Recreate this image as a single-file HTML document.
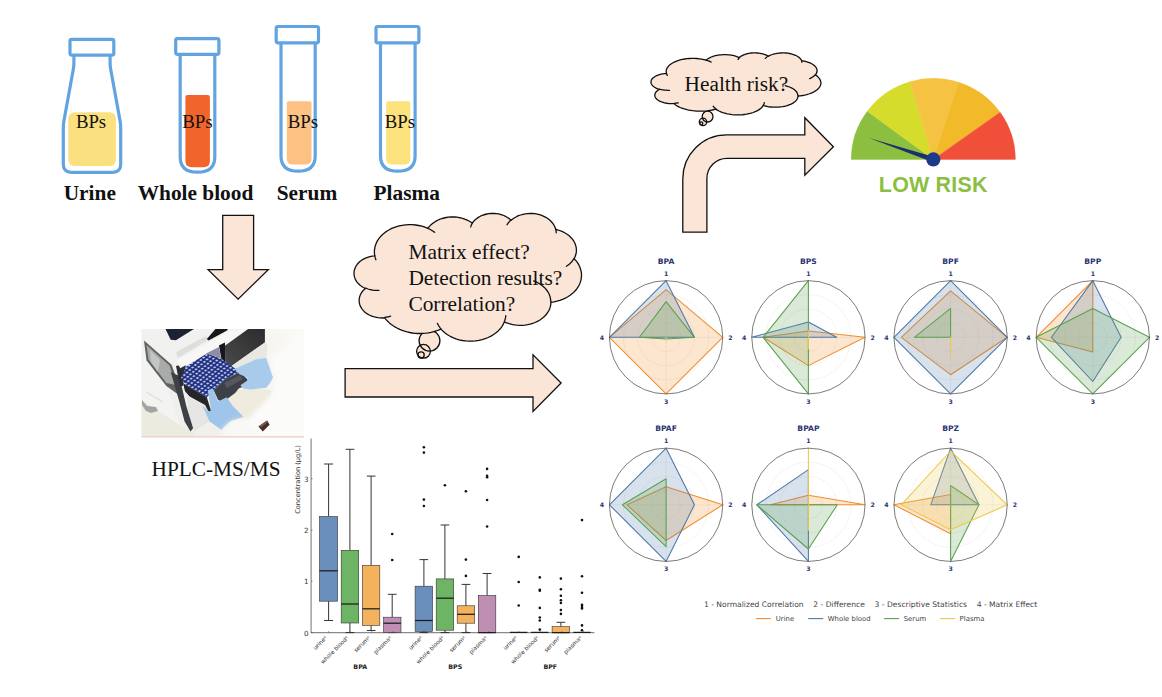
<!DOCTYPE html>
<html lang="en"><head><meta charset="utf-8"><title>Graphical abstract</title>
<style>html,body{margin:0;padding:0;background:#fff}svg{display:block}</style></head>
<body>
<svg width="1162" height="697" viewBox="0 0 1162 697">
<rect width="1162" height="697" fill="#ffffff"/>
<path d="M73.9 55 L73.9 63 Q73.9 66 73.4 68.8 L63.9 121 Q63.3 124.5 63.3 128 L63.3 164.3 Q63.3 172.3 71.3 172.3 L112.7 172.3 Q120.7 172.3 120.7 164.3 L120.7 128 Q120.7 124.5 120.1 121 L110.6 68.8 Q110.1 66 110.1 63 L110.1 55" fill="#fff" stroke="#62a4df" stroke-width="3.2" stroke-linejoin="round"/>
<rect x="68.3" y="112.2" width="47.6" height="53.7" rx="6" fill="#fbe07f"/>
<rect x="70" y="39.3" width="43.8" height="15.8" rx="1.8" fill="#fff" stroke="#62a4df" stroke-width="3.2"/>
<path d="M180.2 54 L180.2 157 Q180.2 172.2 197.5 172.2 Q214.8 172.2 214.8 157 L214.8 54" fill="#fff" stroke="#62a4df" stroke-width="3.2"/>
<path d="M185.4 97 Q185.4 94.9 187.5 94.9 L207.8 94.9 Q209.9 94.9 209.9 97 L209.9 161 Q209.9 167.2 203.5 167.2 L191.8 167.2 Q185.4 167.2 185.4 161 Z" fill="#f2652a"/>
<rect x="175.7" y="38.7" width="43.2" height="15.6" rx="1.8" fill="#fff" stroke="#62a4df" stroke-width="3.2"/>
<path d="M281 43 L281 156 Q281 171.2 298.1 171.2 Q315.2 171.2 315.2 156 L315.2 43" fill="#fff" stroke="#62a4df" stroke-width="3.2"/>
<path d="M286.8 103 Q286.8 101.3 288.5 101.3 L309.8 101.3 Q311.5 101.3 311.5 103 L311.5 159 Q311.5 164.6 305.5 164.6 L292.8 164.6 Q286.8 164.6 286.8 159 Z" fill="#fdc283"/>
<rect x="276.2" y="26.5" width="42.3" height="16.4" rx="1.8" fill="#fff" stroke="#62a4df" stroke-width="3.2"/>
<path d="M380.5 43 L380.5 156 Q380.5 171.2 397.8 171.2 Q415.1 171.2 415.1 156 L415.1 43" fill="#fff" stroke="#62a4df" stroke-width="3.2"/>
<path d="M386.2 103 Q386.2 101.3 387.9 101.3 L408.6 101.3 Q410.3 101.3 410.3 103 L410.3 159 Q410.3 164.6 404.3 164.6 L392.2 164.6 Q386.2 164.6 386.2 159 Z" fill="#fbe27c"/>
<rect x="376" y="26.5" width="42.9" height="16.4" rx="1.8" fill="#fff" stroke="#62a4df" stroke-width="3.2"/>
<text x="75.9" y="128.0" font-family="Liberation Serif, serif" font-size="18.8" fill="#111">BPs</text>
<text x="182.2" y="128.0" font-family="Liberation Serif, serif" font-size="18.8" fill="#111">BPs</text>
<text x="287.7" y="128.0" font-family="Liberation Serif, serif" font-size="18.8" fill="#111">BPs</text>
<text x="384.7" y="128.0" font-family="Liberation Serif, serif" font-size="18.8" fill="#111">BPs</text>
<text x="63.7" y="200.2" font-family="Liberation Serif, serif" font-size="21.35" font-weight="bold" fill="#111">Urine</text>
<text x="137.7" y="200.2" font-family="Liberation Serif, serif" font-size="21.35" font-weight="bold" fill="#111">Whole blood</text>
<text x="276.7" y="200.2" font-family="Liberation Serif, serif" font-size="21.35" font-weight="bold" fill="#111">Serum</text>
<text x="373.5" y="200.2" font-family="Liberation Serif, serif" font-size="21.35" font-weight="bold" fill="#111">Plasma</text>
<path d="M222.7 215.4 L253.6 215.4 L253.6 269.6 L268.3 269.6 L238.1 299.1 L208.1 269.6 L222.7 269.6 Z" fill="#fbe5d6" stroke="#111" stroke-width="1.3"/>
<path d="M345.1 368.6 L533 368.6 L533 354.9 L561.1 383 L533 411.5 L533 397 L345.1 397 Z" fill="#fbe5d6" stroke="#111" stroke-width="1.3"/>
<path d="M682.8 232.2 L682.8 179 A44 44 0 0 1 726.8 134.9 L804.8 134.9 L804.8 117.7 L833.4 146.7 L804.8 175.3 L804.8 158.4 L726.9 158.4 A20 20 0 0 0 706.9 178.4 L706.9 232.2 Z" fill="#fbe5d6" stroke="#111" stroke-width="1.3"/>
<circle cx="429.5" cy="340.7" r="10.4" fill="#fbe5d6"/><circle cx="423.5" cy="351.3" r="6.9" fill="#fbe5d6"/><circle cx="421.1" cy="354.9" r="3.1" fill="#fbe5d6"/><circle cx="429.5" cy="340.7" r="10.4" fill="none" stroke="#111" stroke-width="1.3"/><circle cx="423.5" cy="351.3" r="6.9" fill="none" stroke="#111" stroke-width="1.3"/><circle cx="421.1" cy="354.9" r="3.1" fill="none" stroke="#111" stroke-width="1.3"/><path d="M374.7 255.5 L374.4 253.0 L374.4 250.4 L374.8 247.9 L375.4 245.4 L376.3 243.0 L377.5 240.6 L379.0 238.4 L380.8 236.3 L382.8 234.2 L385.1 232.4 L387.5 230.7 L390.2 229.2 L393.0 227.9 L396.0 226.8 L399.1 225.9 L402.3 225.3 L405.6 224.9 L408.9 224.7 L412.2 224.7 L415.5 225.0 L418.7 225.5 L421.9 226.2 L424.9 227.2 L427.9 228.4 L428.9 226.9 L430.2 225.6 L431.6 224.3 L433.1 223.1 L434.7 222.0 L436.4 220.9 L438.2 220.0 L440.1 219.2 L442.1 218.5 L444.1 218.0 L446.2 217.5 L448.4 217.2 L450.5 217.0 L452.7 217.0 L454.9 217.0 L457.0 217.2 L459.2 217.6 L461.2 218.0 L463.3 218.6 L465.3 219.3 L467.2 220.1 L469.0 221.0 L470.7 222.0 L472.3 223.1 L473.2 221.8 L474.3 220.6 L475.5 219.5 L476.9 218.4 L478.3 217.4 L479.9 216.5 L481.5 215.7 L483.2 215.0 L485.0 214.5 L486.9 214.0 L488.8 213.7 L490.7 213.5 L492.6 213.4 L494.6 213.5 L496.5 213.6 L498.4 213.9 L500.2 214.4 L502.0 214.9 L503.8 215.5 L505.5 216.3 L507.0 217.2 L508.5 218.1 L509.9 219.2 L511.1 220.3 L512.7 219.0 L514.5 217.8 L516.5 216.7 L518.5 215.7 L520.7 215.0 L523.0 214.3 L525.3 213.9 L527.7 213.6 L530.1 213.4 L532.5 213.5 L534.9 213.7 L537.2 214.1 L539.5 214.7 L541.7 215.4 L543.8 216.3 L545.8 217.3 L547.7 218.5 L549.4 219.7 L550.9 221.2 L552.3 222.7 L553.5 224.3 L554.4 226.0 L555.2 227.7 L555.7 229.5 L557.6 229.9 L559.5 230.5 L561.3 231.2 L563.0 231.9 L564.7 232.8 L566.3 233.7 L567.8 234.7 L569.2 235.8 L570.4 237.0 L571.6 238.2 L572.7 239.5 L573.6 240.9 L574.4 242.3 L575.1 243.7 L575.6 245.2 L576.0 246.7 L576.3 248.2 L576.4 249.7 L576.4 251.3 L576.2 252.8 L575.9 254.3 L575.4 255.8 L574.9 257.3 L574.1 258.7 L575.9 260.6 L577.5 262.7 L578.8 264.8 L579.8 267.0 L580.6 269.3 L581.2 271.7 L581.5 274.0 L581.5 276.4 L581.2 278.7 L580.7 281.1 L579.9 283.4 L578.9 285.6 L577.6 287.7 L576.1 289.8 L574.3 291.7 L572.3 293.6 L570.2 295.2 L567.8 296.8 L565.3 298.2 L562.6 299.4 L559.8 300.4 L556.9 301.2 L554.0 301.8 L550.9 302.3 L550.8 304.3 L550.4 306.4 L549.8 308.4 L549.0 310.3 L547.9 312.2 L546.6 314.0 L545.1 315.7 L543.5 317.3 L541.6 318.8 L539.6 320.2 L537.4 321.4 L535.1 322.5 L532.7 323.4 L530.2 324.1 L527.6 324.7 L525.0 325.1 L522.3 325.3 L519.6 325.3 L517.0 325.2 L514.3 324.9 L511.7 324.4 L509.2 323.7 L506.7 322.8 L504.4 321.8 L503.3 324.2 L501.9 326.6 L500.2 328.8 L498.2 330.9 L496.0 332.8 L493.6 334.5 L491.0 336.1 L488.2 337.5 L485.2 338.7 L482.1 339.6 L478.9 340.4 L475.6 340.9 L472.3 341.1 L469.0 341.1 L465.6 340.9 L462.3 340.5 L459.1 339.8 L456.0 338.8 L453.0 337.7 L450.2 336.3 L447.5 334.8 L445.1 333.0 L442.9 331.1 L440.9 329.1 L438.5 330.1 L436.1 331.0 L433.6 331.7 L431.0 332.3 L428.4 332.8 L425.8 333.2 L423.1 333.4 L420.4 333.5 L417.7 333.5 L415.0 333.3 L412.4 333.0 L409.7 332.5 L407.1 331.9 L404.6 331.2 L402.2 330.4 L399.8 329.4 L397.5 328.3 L395.3 327.1 L393.2 325.8 L391.3 324.4 L389.4 322.9 L387.7 321.3 L386.1 319.6 L384.7 317.9 L382.4 318.0 L380.1 317.9 L377.8 317.7 L375.5 317.2 L373.3 316.6 L371.2 315.9 L369.2 315.0 L367.3 313.9 L365.6 312.7 L364.1 311.4 L362.7 309.9 L361.6 308.4 L360.6 306.7 L359.9 305.0 L359.4 303.3 L359.2 301.5 L359.1 299.8 L359.4 298.0 L359.8 296.2 L360.5 294.5 L361.4 292.9 L362.5 291.3 L363.8 289.9 L365.3 288.5 L363.3 287.5 L361.5 286.3 L359.8 285.0 L358.3 283.6 L357.0 282.1 L355.9 280.4 L355.1 278.7 L354.5 276.9 L354.1 275.1 L354.0 273.3 L354.1 271.4 L354.5 269.6 L355.2 267.9 L356.0 266.1 L357.1 264.5 L358.4 263.0 L359.9 261.6 L361.6 260.3 L363.5 259.1 L365.5 258.1 L367.6 257.3 L369.9 256.6 L372.2 256.2 L374.5 255.9 Z" fill="#fbe5d6" stroke="#111" stroke-width="1.3" stroke-linejoin="round"/><path d="M378.9 290.4 L377.5 290.4 L376.1 290.4 L374.7 290.3 L373.3 290.2 L372.0 290.0 L370.6 289.7 L369.3 289.4 L368.0 289.0 L366.8 288.5 L365.6 288.0 M390.6 316.2 L390.1 316.3 L389.5 316.5 L388.9 316.6 L388.4 316.8 L387.8 316.9 L387.2 317.0 L386.6 317.1 L386.0 317.2 L385.4 317.2 L384.8 317.3 M440.9 328.6 L440.4 328.1 L440.0 327.6 L439.7 327.1 L439.3 326.6 L438.9 326.1 L438.6 325.5 L438.3 325.0 L437.9 324.5 L437.6 323.9 L437.4 323.4 M505.8 315.7 L505.7 316.3 L505.7 316.9 L505.6 317.4 L505.4 318.0 L505.3 318.6 L505.2 319.1 L505.0 319.7 L504.8 320.3 L504.6 320.8 L504.4 321.4 M533.7 280.9 L536.7 282.1 L539.5 283.7 L542.0 285.4 L544.3 287.4 L546.2 289.5 L547.9 291.8 L549.2 294.2 L550.1 296.8 L550.6 299.3 L550.8 301.9 M574.0 258.4 L573.5 259.3 L572.9 260.2 L572.3 261.0 L571.6 261.9 L570.8 262.7 L570.0 263.5 L569.2 264.2 L568.3 264.9 L567.4 265.6 L566.4 266.3 M555.8 229.0 L555.8 229.4 L555.9 229.8 L556.0 230.2 L556.0 230.5 L556.1 230.9 L556.1 231.3 L556.1 231.6 L556.2 232.0 L556.2 232.4 L556.2 232.8 M507.1 224.7 L507.4 224.2 L507.8 223.7 L508.1 223.2 L508.5 222.7 L508.9 222.2 L509.3 221.7 L509.7 221.3 L510.1 220.8 L510.6 220.4 L511.0 219.9 M470.6 227.0 L470.8 226.5 L470.9 226.1 L471.1 225.7 L471.2 225.3 L471.4 224.9 L471.6 224.4 L471.8 224.0 L472.1 223.6 L472.3 223.2 L472.5 222.8 M427.8 228.3 L428.6 228.7 L429.3 229.0 L430.0 229.4 L430.7 229.8 L431.4 230.2 L432.1 230.6 L432.8 231.0 L433.4 231.4 L434.0 231.9 L434.7 232.3 M375.9 259.7 L375.7 259.3 L375.6 258.8 L375.5 258.4 L375.3 258.0 L375.2 257.6 L375.1 257.2 L375.0 256.8 L374.9 256.3 L374.8 255.9 L374.7 255.5" fill="none" stroke="#111" stroke-width="1.3" stroke-linecap="round"/>
<text x="408.4" y="258.9" font-family="Liberation Serif, serif" font-size="21.4" fill="#111">Matrix effect?</text>
<text x="408.4" y="284.7" font-family="Liberation Serif, serif" font-size="21.4" fill="#111">Detection results?</text>
<text x="408.4" y="310.5" font-family="Liberation Serif, serif" font-size="21.4" fill="#111">Correlation?</text>
<circle cx="707.6" cy="116.6" r="5.4" fill="#fbe5d6"/><circle cx="703" cy="121.9" r="3.7" fill="#fbe5d6"/><circle cx="701.3" cy="123.4" r="1.5" fill="#fbe5d6"/><circle cx="707.6" cy="116.6" r="5.4" fill="none" stroke="#111" stroke-width="1.3"/><circle cx="703" cy="121.9" r="3.7" fill="none" stroke="#111" stroke-width="1.3"/><circle cx="701.3" cy="123.4" r="1.5" fill="none" stroke="#111" stroke-width="1.3"/><path d="M666.4 73.3 L666.2 72.1 L666.2 70.9 L666.5 69.6 L666.9 68.4 L667.6 67.3 L668.5 66.1 L669.6 65.0 L671.0 64.0 L672.5 63.0 L674.2 62.1 L676.0 61.3 L678.0 60.6 L680.1 59.9 L682.3 59.4 L684.7 59.0 L687.0 58.7 L689.5 58.5 L691.9 58.4 L694.4 58.4 L696.9 58.5 L699.3 58.8 L701.6 59.1 L703.9 59.6 L706.1 60.2 L706.9 59.5 L707.9 58.8 L708.9 58.2 L710.0 57.6 L711.2 57.0 L712.5 56.6 L713.8 56.1 L715.3 55.7 L716.7 55.4 L718.3 55.1 L719.8 54.9 L721.4 54.8 L723.0 54.7 L724.7 54.6 L726.3 54.7 L727.9 54.8 L729.5 54.9 L731.1 55.1 L732.6 55.4 L734.1 55.7 L735.5 56.1 L736.8 56.6 L738.1 57.1 L739.3 57.6 L740.0 57.0 L740.8 56.4 L741.7 55.8 L742.7 55.3 L743.8 54.8 L745.0 54.4 L746.2 54.0 L747.5 53.7 L748.8 53.4 L750.2 53.2 L751.6 53.0 L753.0 52.9 L754.5 52.9 L755.9 52.9 L757.4 53.0 L758.8 53.2 L760.2 53.4 L761.5 53.6 L762.8 53.9 L764.1 54.3 L765.2 54.7 L766.3 55.2 L767.4 55.7 L768.3 56.3 L769.5 55.6 L770.9 55.0 L772.3 54.5 L773.8 54.0 L775.5 53.7 L777.2 53.3 L778.9 53.1 L780.7 53.0 L782.5 52.9 L784.3 52.9 L786.0 53.0 L787.8 53.2 L789.5 53.5 L791.2 53.9 L792.7 54.3 L794.2 54.8 L795.6 55.3 L796.9 56.0 L798.0 56.7 L799.1 57.4 L799.9 58.2 L800.7 59.0 L801.2 59.8 L801.6 60.7 L803.0 60.9 L804.4 61.2 L805.8 61.5 L807.1 61.9 L808.3 62.3 L809.5 62.7 L810.6 63.2 L811.7 63.8 L812.6 64.3 L813.5 64.9 L814.3 65.6 L815.0 66.2 L815.6 66.9 L816.1 67.6 L816.5 68.3 L816.8 69.1 L817.0 69.8 L817.1 70.5 L817.0 71.3 L816.9 72.0 L816.7 72.8 L816.4 73.5 L815.9 74.2 L815.4 74.9 L816.7 75.8 L817.9 76.8 L818.8 77.9 L819.6 78.9 L820.2 80.0 L820.6 81.2 L820.9 82.3 L820.9 83.5 L820.7 84.6 L820.3 85.7 L819.7 86.9 L818.9 87.9 L817.9 89.0 L816.8 90.0 L815.5 90.9 L814.0 91.8 L812.4 92.6 L810.6 93.4 L808.8 94.0 L806.8 94.6 L804.7 95.1 L802.5 95.5 L800.3 95.8 L798.0 96.0 L797.9 97.0 L797.6 98.0 L797.2 99.0 L796.6 99.9 L795.8 100.9 L794.8 101.7 L793.7 102.6 L792.5 103.4 L791.1 104.1 L789.6 104.7 L788.0 105.3 L786.3 105.9 L784.5 106.3 L782.6 106.7 L780.6 106.9 L778.7 107.1 L776.7 107.2 L774.7 107.2 L772.7 107.2 L770.7 107.0 L768.7 106.8 L766.9 106.4 L765.0 106.0 L763.3 105.5 L762.4 106.7 L761.4 107.8 L760.1 108.9 L758.7 109.9 L757.0 110.9 L755.2 111.7 L753.3 112.5 L751.2 113.2 L748.9 113.7 L746.6 114.2 L744.2 114.5 L741.8 114.8 L739.3 114.9 L736.8 114.9 L734.3 114.8 L731.9 114.6 L729.5 114.2 L727.1 113.8 L724.9 113.2 L722.8 112.6 L720.8 111.8 L719.0 111.0 L717.3 110.1 L715.8 109.1 L714.1 109.5 L712.3 110.0 L710.4 110.3 L708.5 110.6 L706.5 110.9 L704.5 111.1 L702.5 111.2 L700.5 111.2 L698.5 111.2 L696.5 111.1 L694.5 110.9 L692.6 110.7 L690.6 110.4 L688.8 110.1 L686.9 109.7 L685.2 109.2 L683.4 108.7 L681.8 108.1 L680.2 107.5 L678.8 106.8 L677.4 106.1 L676.1 105.3 L675.0 104.5 L673.9 103.6 L672.2 103.7 L670.4 103.6 L668.7 103.5 L667.0 103.3 L665.4 103.0 L663.8 102.7 L662.3 102.2 L660.9 101.7 L659.6 101.1 L658.5 100.5 L657.5 99.7 L656.6 99.0 L655.9 98.2 L655.4 97.4 L655.0 96.5 L654.8 95.7 L654.8 94.8 L655.0 94.0 L655.3 93.1 L655.8 92.3 L656.5 91.5 L657.3 90.7 L658.3 90.0 L659.4 89.4 L657.9 88.9 L656.5 88.3 L655.3 87.7 L654.2 87.0 L653.2 86.2 L652.4 85.4 L651.8 84.6 L651.3 83.7 L651.0 82.9 L651.0 82.0 L651.1 81.1 L651.3 80.2 L651.8 79.3 L652.5 78.5 L653.3 77.7 L654.3 77.0 L655.4 76.3 L656.6 75.6 L658.0 75.1 L659.5 74.6 L661.1 74.2 L662.8 73.9 L664.5 73.7 L666.3 73.5 Z" fill="#fbe5d6" stroke="#111" stroke-width="1.3" stroke-linejoin="round"/><path d="M669.5 90.3 L668.5 90.3 L667.5 90.3 L666.4 90.2 L665.4 90.2 L664.4 90.1 L663.4 89.9 L662.4 89.8 L661.4 89.6 L660.5 89.4 L659.6 89.1 M678.3 102.8 L677.9 102.9 L677.5 102.9 L677.0 103.0 L676.6 103.1 L676.2 103.1 L675.7 103.2 L675.3 103.2 L674.9 103.3 L674.4 103.3 L674.0 103.3 M715.8 108.8 L715.5 108.6 L715.2 108.3 L714.9 108.1 L714.7 107.8 L714.4 107.6 L714.1 107.3 L713.9 107.1 L713.6 106.8 L713.4 106.6 L713.2 106.3 M764.3 102.6 L764.3 102.9 L764.2 103.1 L764.1 103.4 L764.1 103.7 L764.0 104.0 L763.9 104.2 L763.7 104.5 L763.6 104.8 L763.4 105.0 L763.3 105.3 M785.2 85.6 L787.4 86.3 L789.5 87.0 L791.4 87.9 L793.1 88.8 L794.5 89.8 L795.8 91.0 L796.7 92.1 L797.4 93.4 L797.8 94.6 L797.9 95.9 M815.3 74.7 L814.9 75.2 L814.5 75.6 L814.0 76.0 L813.5 76.4 L812.9 76.8 L812.3 77.2 L811.7 77.6 L811.0 77.9 L810.3 78.3 L809.6 78.6 M801.6 60.5 L801.7 60.7 L801.8 60.8 L801.8 61.0 L801.9 61.2 L801.9 61.4 L801.9 61.6 L801.9 61.8 L801.9 61.9 L801.9 62.1 L801.9 62.3 M765.3 58.4 L765.6 58.1 L765.8 57.9 L766.1 57.6 L766.3 57.4 L766.6 57.2 L766.9 56.9 L767.2 56.7 L767.6 56.5 L767.9 56.3 L768.2 56.1 M738.1 59.5 L738.2 59.3 L738.3 59.1 L738.4 58.9 L738.5 58.7 L738.7 58.5 L738.8 58.3 L739.0 58.1 L739.1 57.9 L739.3 57.7 L739.5 57.5 M706.1 60.2 L706.6 60.3 L707.2 60.5 L707.7 60.7 L708.3 60.9 L708.8 61.0 L709.3 61.2 L709.8 61.4 L710.3 61.7 L710.7 61.9 L711.2 62.1 M667.3 75.4 L667.2 75.2 L667.1 75.0 L667.0 74.8 L666.9 74.6 L666.8 74.4 L666.7 74.1 L666.6 73.9 L666.5 73.7 L666.5 73.5 L666.4 73.3" fill="none" stroke="#111" stroke-width="1.3" stroke-linecap="round"/>
<text x="684.6" y="90.6" font-family="Liberation Serif, serif" font-size="21.3" fill="#111">Health risk?</text>
<path d="M933.3 159.4 L851.20 159.40 A82.1 81.0 0 0 1 867.30 111.22 Z" fill="#8cbf3f" stroke="#8cbf3f" stroke-width="0.4"/>
<path d="M933.3 159.4 L867.30 111.22 A82.1 81.0 0 0 1 909.98 81.74 Z" fill="#d6dc2b" stroke="#d6dc2b" stroke-width="0.4"/>
<path d="M933.3 159.4 L909.98 81.74 A82.1 81.0 0 0 1 958.67 82.36 Z" fill="#f5c242" stroke="#f5c242" stroke-width="0.4"/>
<path d="M933.3 159.4 L958.67 82.36 A82.1 81.0 0 0 1 1000.14 112.36 Z" fill="#f2b92b" stroke="#f2b92b" stroke-width="0.4"/>
<path d="M933.3 159.4 L1000.14 112.36 A82.1 81.0 0 0 1 1015.40 159.40 Z" fill="#f0503a" stroke="#f0503a" stroke-width="0.4"/>
<path d="M869.0 138.1 L934.1 156.9 L932.5 161.9 Z" fill="#1b2f6e"/>
<circle cx="933.3" cy="159.4" r="7.1" fill="#1b3a8a"/>
<text x="933.2" y="191.7" text-anchor="middle" font-family="Liberation Sans, sans-serif" font-weight="bold" font-size="21.4" letter-spacing="0.22" fill="#8cbf3f">LOW RISK</text>
<g>
<circle cx="666.1" cy="337.3" r="14.16" fill="none" stroke="#c8c8c8" stroke-width="0.5" stroke-dasharray="0.7 0.9"/>
<circle cx="666.1" cy="337.3" r="28.32" fill="none" stroke="#c8c8c8" stroke-width="0.5" stroke-dasharray="0.7 0.9"/>
<circle cx="666.1" cy="337.3" r="42.49" fill="none" stroke="#c8c8c8" stroke-width="0.5" stroke-dasharray="0.7 0.9"/>
<path d="M609.45 337.3 H722.75 M666.1 280.65000000000003 V393.95" stroke="#c8c8c8" stroke-width="0.5" stroke-dasharray="0.7 0.9" fill="none"/>
<polygon points="666.10,289.71 722.75,337.30 666.10,393.95 609.45,337.30" fill="#f28e2b" fill-opacity="0.22" stroke="#f28e2b" stroke-width="1.05" stroke-linejoin="round"/>
<polygon points="666.10,280.65 694.43,337.30 666.10,337.30 609.45,337.30" fill="#4e79a7" fill-opacity="0.22" stroke="#4e79a7" stroke-width="1.05" stroke-linejoin="round"/>
<polygon points="666.10,301.61 694.43,337.30 666.10,339.00 639.47,337.30" fill="#59a14f" fill-opacity="0.22" stroke="#59a14f" stroke-width="1.05" stroke-linejoin="round"/>
<polygon points="666.10,337.30 666.10,337.30 666.10,340.13 666.10,337.30" fill="#edc948" fill-opacity="0.22" stroke="#edc948" stroke-width="1.05" stroke-linejoin="round"/>
<circle cx="666.1" cy="337.3" r="56.65" fill="none" stroke="#505050" stroke-width="0.75"/>
<text x="666.1" y="264.1" text-anchor="middle" font-family="DejaVu Sans, Liberation Sans, sans-serif" font-weight="bold" font-size="7.6" fill="#2b3470">BPA</text>
<text x="666.1" y="275.9" text-anchor="middle" font-family="DejaVu Sans, Liberation Sans, sans-serif" font-weight="bold" font-size="6.2" fill="#2b3470">1</text>
<text x="730.4" y="339.5" text-anchor="middle" font-family="DejaVu Sans, Liberation Sans, sans-serif" font-weight="bold" font-size="6.2" fill="#2b3470">2</text>
<text x="666.1" y="403.6" text-anchor="middle" font-family="DejaVu Sans, Liberation Sans, sans-serif" font-weight="bold" font-size="6.2" fill="#2b3470">3</text>
<text x="601.8" y="339.5" text-anchor="middle" font-family="DejaVu Sans, Liberation Sans, sans-serif" font-weight="bold" font-size="6.2" fill="#2b3470">4</text>
</g>
<g>
<circle cx="808.4" cy="337.3" r="14.16" fill="none" stroke="#c8c8c8" stroke-width="0.5" stroke-dasharray="0.7 0.9"/>
<circle cx="808.4" cy="337.3" r="28.32" fill="none" stroke="#c8c8c8" stroke-width="0.5" stroke-dasharray="0.7 0.9"/>
<circle cx="808.4" cy="337.3" r="42.49" fill="none" stroke="#c8c8c8" stroke-width="0.5" stroke-dasharray="0.7 0.9"/>
<path d="M751.75 337.3 H865.05 M808.4 280.65000000000003 V393.95" stroke="#c8c8c8" stroke-width="0.5" stroke-dasharray="0.7 0.9" fill="none"/>
<polygon points="808.40,331.07 865.05,337.30 808.40,365.62 763.08,337.30" fill="#f28e2b" fill-opacity="0.22" stroke="#f28e2b" stroke-width="1.05" stroke-linejoin="round"/>
<polygon points="808.40,322.00 836.73,337.30 808.40,337.30 751.75,337.30" fill="#4e79a7" fill-opacity="0.22" stroke="#4e79a7" stroke-width="1.05" stroke-linejoin="round"/>
<polygon points="808.40,280.65 808.40,337.30 808.40,393.95 763.08,337.30" fill="#59a14f" fill-opacity="0.22" stroke="#59a14f" stroke-width="1.05" stroke-linejoin="round"/>
<polygon points="808.40,330.50 808.40,337.30 808.40,348.63 808.40,337.30" fill="#edc948" fill-opacity="0.22" stroke="#edc948" stroke-width="1.05" stroke-linejoin="round"/>
<circle cx="808.4" cy="337.3" r="56.65" fill="none" stroke="#505050" stroke-width="0.75"/>
<text x="808.4" y="264.1" text-anchor="middle" font-family="DejaVu Sans, Liberation Sans, sans-serif" font-weight="bold" font-size="7.6" fill="#2b3470">BPS</text>
<text x="808.4" y="275.9" text-anchor="middle" font-family="DejaVu Sans, Liberation Sans, sans-serif" font-weight="bold" font-size="6.2" fill="#2b3470">1</text>
<text x="872.7" y="339.5" text-anchor="middle" font-family="DejaVu Sans, Liberation Sans, sans-serif" font-weight="bold" font-size="6.2" fill="#2b3470">2</text>
<text x="808.4" y="403.6" text-anchor="middle" font-family="DejaVu Sans, Liberation Sans, sans-serif" font-weight="bold" font-size="6.2" fill="#2b3470">3</text>
<text x="744.1" y="339.5" text-anchor="middle" font-family="DejaVu Sans, Liberation Sans, sans-serif" font-weight="bold" font-size="6.2" fill="#2b3470">4</text>
</g>
<g>
<circle cx="950.6" cy="337.3" r="14.16" fill="none" stroke="#c8c8c8" stroke-width="0.5" stroke-dasharray="0.7 0.9"/>
<circle cx="950.6" cy="337.3" r="28.32" fill="none" stroke="#c8c8c8" stroke-width="0.5" stroke-dasharray="0.7 0.9"/>
<circle cx="950.6" cy="337.3" r="42.49" fill="none" stroke="#c8c8c8" stroke-width="0.5" stroke-dasharray="0.7 0.9"/>
<path d="M893.95 337.3 H1007.25 M950.6 280.65000000000003 V393.95" stroke="#c8c8c8" stroke-width="0.5" stroke-dasharray="0.7 0.9" fill="none"/>
<polygon points="950.60,290.85 1007.25,337.30 950.60,374.69 901.31,337.30" fill="#f28e2b" fill-opacity="0.22" stroke="#f28e2b" stroke-width="1.05" stroke-linejoin="round"/>
<polygon points="950.60,280.65 1007.25,337.30 950.60,393.95 893.95,337.30" fill="#4e79a7" fill-opacity="0.22" stroke="#4e79a7" stroke-width="1.05" stroke-linejoin="round"/>
<polygon points="950.60,308.41 950.60,337.30 950.60,337.30 914.34,337.30" fill="#59a14f" fill-opacity="0.22" stroke="#59a14f" stroke-width="1.05" stroke-linejoin="round"/>
<polygon points="950.60,337.30 950.60,337.30 950.60,357.69 950.60,337.30" fill="#edc948" fill-opacity="0.22" stroke="#edc948" stroke-width="1.05" stroke-linejoin="round"/>
<circle cx="950.6" cy="337.3" r="56.65" fill="none" stroke="#505050" stroke-width="0.75"/>
<text x="950.6" y="264.1" text-anchor="middle" font-family="DejaVu Sans, Liberation Sans, sans-serif" font-weight="bold" font-size="7.6" fill="#2b3470">BPF</text>
<text x="950.6" y="275.9" text-anchor="middle" font-family="DejaVu Sans, Liberation Sans, sans-serif" font-weight="bold" font-size="6.2" fill="#2b3470">1</text>
<text x="1014.9" y="339.5" text-anchor="middle" font-family="DejaVu Sans, Liberation Sans, sans-serif" font-weight="bold" font-size="6.2" fill="#2b3470">2</text>
<text x="950.6" y="403.6" text-anchor="middle" font-family="DejaVu Sans, Liberation Sans, sans-serif" font-weight="bold" font-size="6.2" fill="#2b3470">3</text>
<text x="886.3" y="339.5" text-anchor="middle" font-family="DejaVu Sans, Liberation Sans, sans-serif" font-weight="bold" font-size="6.2" fill="#2b3470">4</text>
</g>
<g>
<circle cx="1092.8" cy="337.3" r="14.16" fill="none" stroke="#c8c8c8" stroke-width="0.5" stroke-dasharray="0.7 0.9"/>
<circle cx="1092.8" cy="337.3" r="28.32" fill="none" stroke="#c8c8c8" stroke-width="0.5" stroke-dasharray="0.7 0.9"/>
<circle cx="1092.8" cy="337.3" r="42.49" fill="none" stroke="#c8c8c8" stroke-width="0.5" stroke-dasharray="0.7 0.9"/>
<path d="M1036.1499999999999 337.3 H1149.45 M1092.8 280.65000000000003 V393.95" stroke="#c8c8c8" stroke-width="0.5" stroke-dasharray="0.7 0.9" fill="none"/>
<polygon points="1092.80,280.65 1092.80,337.30 1092.80,352.03 1036.15,337.30" fill="#f28e2b" fill-opacity="0.22" stroke="#f28e2b" stroke-width="1.05" stroke-linejoin="round"/>
<polygon points="1092.80,280.65 1121.12,337.30 1092.80,381.49 1051.45,337.30" fill="#4e79a7" fill-opacity="0.22" stroke="#4e79a7" stroke-width="1.05" stroke-linejoin="round"/>
<polygon points="1092.80,308.41 1149.45,337.30 1092.80,393.95 1036.15,337.30" fill="#59a14f" fill-opacity="0.22" stroke="#59a14f" stroke-width="1.05" stroke-linejoin="round"/>
<polygon points="1092.80,337.30 1092.80,337.30 1092.80,337.30 1092.80,337.30" fill="#edc948" fill-opacity="0.22" stroke="#edc948" stroke-width="1.05" stroke-linejoin="round"/>
<circle cx="1092.8" cy="337.3" r="56.65" fill="none" stroke="#505050" stroke-width="0.75"/>
<text x="1092.8" y="264.1" text-anchor="middle" font-family="DejaVu Sans, Liberation Sans, sans-serif" font-weight="bold" font-size="7.6" fill="#2b3470">BPP</text>
<text x="1092.8" y="275.9" text-anchor="middle" font-family="DejaVu Sans, Liberation Sans, sans-serif" font-weight="bold" font-size="6.2" fill="#2b3470">1</text>
<text x="1157.1" y="339.5" text-anchor="middle" font-family="DejaVu Sans, Liberation Sans, sans-serif" font-weight="bold" font-size="6.2" fill="#2b3470">2</text>
<text x="1092.8" y="403.6" text-anchor="middle" font-family="DejaVu Sans, Liberation Sans, sans-serif" font-weight="bold" font-size="6.2" fill="#2b3470">3</text>
<text x="1028.5" y="339.5" text-anchor="middle" font-family="DejaVu Sans, Liberation Sans, sans-serif" font-weight="bold" font-size="6.2" fill="#2b3470">4</text>
</g>
<g>
<circle cx="666.1" cy="504.8" r="14.16" fill="none" stroke="#c8c8c8" stroke-width="0.5" stroke-dasharray="0.7 0.9"/>
<circle cx="666.1" cy="504.8" r="28.32" fill="none" stroke="#c8c8c8" stroke-width="0.5" stroke-dasharray="0.7 0.9"/>
<circle cx="666.1" cy="504.8" r="42.49" fill="none" stroke="#c8c8c8" stroke-width="0.5" stroke-dasharray="0.7 0.9"/>
<path d="M609.45 504.8 H722.75 M666.1 448.15000000000003 V561.45" stroke="#c8c8c8" stroke-width="0.5" stroke-dasharray="0.7 0.9" fill="none"/>
<polygon points="666.10,486.67 722.75,504.80 666.10,540.49 627.01,504.80" fill="#f28e2b" fill-opacity="0.22" stroke="#f28e2b" stroke-width="1.05" stroke-linejoin="round"/>
<polygon points="666.10,448.15 694.43,504.80 666.10,561.45 609.45,504.80" fill="#4e79a7" fill-opacity="0.22" stroke="#4e79a7" stroke-width="1.05" stroke-linejoin="round"/>
<polygon points="666.10,478.74 666.10,504.80 666.10,546.72 622.48,504.80" fill="#59a14f" fill-opacity="0.22" stroke="#59a14f" stroke-width="1.05" stroke-linejoin="round"/>
<polygon points="666.10,504.80 666.10,504.80 666.10,504.80 666.10,504.80" fill="#edc948" fill-opacity="0.22" stroke="#edc948" stroke-width="1.05" stroke-linejoin="round"/>
<circle cx="666.1" cy="504.8" r="56.65" fill="none" stroke="#505050" stroke-width="0.75"/>
<text x="666.1" y="431.0" text-anchor="middle" font-family="DejaVu Sans, Liberation Sans, sans-serif" font-weight="bold" font-size="7.6" fill="#2b3470">BPAF</text>
<text x="666.1" y="443.4" text-anchor="middle" font-family="DejaVu Sans, Liberation Sans, sans-serif" font-weight="bold" font-size="6.2" fill="#2b3470">1</text>
<text x="730.4" y="507.0" text-anchor="middle" font-family="DejaVu Sans, Liberation Sans, sans-serif" font-weight="bold" font-size="6.2" fill="#2b3470">2</text>
<text x="666.1" y="571.1" text-anchor="middle" font-family="DejaVu Sans, Liberation Sans, sans-serif" font-weight="bold" font-size="6.2" fill="#2b3470">3</text>
<text x="601.8" y="507.0" text-anchor="middle" font-family="DejaVu Sans, Liberation Sans, sans-serif" font-weight="bold" font-size="6.2" fill="#2b3470">4</text>
</g>
<g>
<circle cx="808.4" cy="504.8" r="14.16" fill="none" stroke="#c8c8c8" stroke-width="0.5" stroke-dasharray="0.7 0.9"/>
<circle cx="808.4" cy="504.8" r="28.32" fill="none" stroke="#c8c8c8" stroke-width="0.5" stroke-dasharray="0.7 0.9"/>
<circle cx="808.4" cy="504.8" r="42.49" fill="none" stroke="#c8c8c8" stroke-width="0.5" stroke-dasharray="0.7 0.9"/>
<path d="M751.75 504.8 H865.05 M808.4 448.15000000000003 V561.45" stroke="#c8c8c8" stroke-width="0.5" stroke-dasharray="0.7 0.9" fill="none"/>
<polygon points="808.40,495.17 865.05,504.80 808.40,504.80 770.44,504.80" fill="#f28e2b" fill-opacity="0.22" stroke="#f28e2b" stroke-width="1.05" stroke-linejoin="round"/>
<polygon points="808.40,469.68 808.40,504.80 808.40,561.45 756.85,504.80" fill="#4e79a7" fill-opacity="0.22" stroke="#4e79a7" stroke-width="1.05" stroke-linejoin="round"/>
<polygon points="808.40,504.80 837.29,504.80 808.40,548.99 756.85,504.80" fill="#59a14f" fill-opacity="0.22" stroke="#59a14f" stroke-width="1.05" stroke-linejoin="round"/>
<polygon points="808.40,448.15 808.40,504.80 808.40,530.29 808.40,504.80" fill="#edc948" fill-opacity="0.22" stroke="#edc948" stroke-width="1.05" stroke-linejoin="round"/>
<circle cx="808.4" cy="504.8" r="56.65" fill="none" stroke="#505050" stroke-width="0.75"/>
<text x="808.4" y="431.0" text-anchor="middle" font-family="DejaVu Sans, Liberation Sans, sans-serif" font-weight="bold" font-size="7.6" fill="#2b3470">BPAP</text>
<text x="808.4" y="443.4" text-anchor="middle" font-family="DejaVu Sans, Liberation Sans, sans-serif" font-weight="bold" font-size="6.2" fill="#2b3470">1</text>
<text x="872.7" y="507.0" text-anchor="middle" font-family="DejaVu Sans, Liberation Sans, sans-serif" font-weight="bold" font-size="6.2" fill="#2b3470">2</text>
<text x="808.4" y="571.1" text-anchor="middle" font-family="DejaVu Sans, Liberation Sans, sans-serif" font-weight="bold" font-size="6.2" fill="#2b3470">3</text>
<text x="744.1" y="507.0" text-anchor="middle" font-family="DejaVu Sans, Liberation Sans, sans-serif" font-weight="bold" font-size="6.2" fill="#2b3470">4</text>
</g>
<g>
<circle cx="950.6" cy="504.8" r="14.16" fill="none" stroke="#c8c8c8" stroke-width="0.5" stroke-dasharray="0.7 0.9"/>
<circle cx="950.6" cy="504.8" r="28.32" fill="none" stroke="#c8c8c8" stroke-width="0.5" stroke-dasharray="0.7 0.9"/>
<circle cx="950.6" cy="504.8" r="42.49" fill="none" stroke="#c8c8c8" stroke-width="0.5" stroke-dasharray="0.7 0.9"/>
<path d="M893.95 504.8 H1007.25 M950.6 448.15000000000003 V561.45" stroke="#c8c8c8" stroke-width="0.5" stroke-dasharray="0.7 0.9" fill="none"/>
<polygon points="950.60,494.60 950.60,504.80 950.60,533.69 893.95,504.80" fill="#f28e2b" fill-opacity="0.22" stroke="#f28e2b" stroke-width="1.05" stroke-linejoin="round"/>
<polygon points="950.60,448.15 978.93,504.80 950.60,504.80 930.77,504.80" fill="#4e79a7" fill-opacity="0.22" stroke="#4e79a7" stroke-width="1.05" stroke-linejoin="round"/>
<polygon points="950.60,485.54 978.93,504.80 950.60,561.45 950.60,504.80" fill="#59a14f" fill-opacity="0.22" stroke="#59a14f" stroke-width="1.05" stroke-linejoin="round"/>
<polygon points="950.60,450.98 1007.25,504.80 950.60,529.73 901.31,504.80" fill="#edc948" fill-opacity="0.22" stroke="#edc948" stroke-width="1.05" stroke-linejoin="round"/>
<circle cx="950.6" cy="504.8" r="56.65" fill="none" stroke="#505050" stroke-width="0.75"/>
<text x="950.6" y="431.0" text-anchor="middle" font-family="DejaVu Sans, Liberation Sans, sans-serif" font-weight="bold" font-size="7.6" fill="#2b3470">BPZ</text>
<text x="950.6" y="443.4" text-anchor="middle" font-family="DejaVu Sans, Liberation Sans, sans-serif" font-weight="bold" font-size="6.2" fill="#2b3470">1</text>
<text x="1014.9" y="507.0" text-anchor="middle" font-family="DejaVu Sans, Liberation Sans, sans-serif" font-weight="bold" font-size="6.2" fill="#2b3470">2</text>
<text x="950.6" y="571.1" text-anchor="middle" font-family="DejaVu Sans, Liberation Sans, sans-serif" font-weight="bold" font-size="6.2" fill="#2b3470">3</text>
<text x="886.3" y="507.0" text-anchor="middle" font-family="DejaVu Sans, Liberation Sans, sans-serif" font-weight="bold" font-size="6.2" fill="#2b3470">4</text>
</g>
<text x="870.6" y="606.6" text-anchor="middle" font-family="DejaVu Sans, Liberation Sans, sans-serif" font-size="7.6" fill="#444" xml:space="preserve" style="white-space:pre">1 - Normalized Correlation    2 - Difference    3 - Descriptive Statistics    4 - Matrix Effect</text>
<line x1="755.9" y1="618.6" x2="770.9" y2="618.6" stroke="#f28e2b" stroke-width="1.1"/>
<text x="775.8" y="620.9" font-family="DejaVu Sans, Liberation Sans, sans-serif" font-size="6.9" fill="#444">Urine</text>
<line x1="808.2" y1="618.6" x2="823.2" y2="618.6" stroke="#4e79a7" stroke-width="1.1"/>
<text x="827.8" y="620.9" font-family="DejaVu Sans, Liberation Sans, sans-serif" font-size="6.9" fill="#444">Whole blood</text>
<line x1="884" y1="618.6" x2="899" y2="618.6" stroke="#59a14f" stroke-width="1.1"/>
<text x="903.7" y="620.9" font-family="DejaVu Sans, Liberation Sans, sans-serif" font-size="6.9" fill="#444">Serum</text>
<line x1="940" y1="618.6" x2="955" y2="618.6" stroke="#edc948" stroke-width="1.1"/>
<text x="959.6" y="620.9" font-family="DejaVu Sans, Liberation Sans, sans-serif" font-size="6.9" fill="#444">Plasma</text>
<path d="M311.1 438.4 V632.6 H594.4" fill="none" stroke="#8a8a8a" stroke-width="1.2"/>
<line x1="311.1" x2="312.6" y1="632.6" y2="632.6" stroke="#333" stroke-width="0.5"/>
<text x="308.6" y="635.7" text-anchor="end" font-family="DejaVu Sans, Liberation Sans, sans-serif" font-size="7.2" fill="#333">0</text>
<line x1="311.1" x2="312.6" y1="581.3" y2="581.3" stroke="#333" stroke-width="0.5"/>
<text x="308.6" y="584.4" text-anchor="end" font-family="DejaVu Sans, Liberation Sans, sans-serif" font-size="7.2" fill="#333">1</text>
<line x1="311.1" x2="312.6" y1="530.0" y2="530.0" stroke="#333" stroke-width="0.5"/>
<text x="308.6" y="533.1" text-anchor="end" font-family="DejaVu Sans, Liberation Sans, sans-serif" font-size="7.2" fill="#333">2</text>
<line x1="311.1" x2="312.6" y1="478.7" y2="478.7" stroke="#333" stroke-width="0.5"/>
<text x="308.6" y="481.8" text-anchor="end" font-family="DejaVu Sans, Liberation Sans, sans-serif" font-size="7.2" fill="#333">3</text>
<text transform="translate(300.3 479.5) rotate(-90)" text-anchor="middle" font-family="DejaVu Sans, Liberation Sans, sans-serif" font-size="6.65" fill="#333">Concentration (µg/L)</text>
<path d="M328.6 516.5 V464 M324.0 464 H333.1 M328.6 601.2 V620.5 M324.0 620.5 H333.1" stroke="#2a2a2a" stroke-width="0.95" fill="none"/>
<rect x="319.5" y="516.5" width="18.1" height="84.7" fill="#6a8fbd" stroke="#333" stroke-width="0.6"/>
<line x1="319.5" x2="337.6" y1="570.8" y2="570.8" stroke="#1c1c1c" stroke-width="1.25"/>
<path d="M349.9 550.3 V449.3 M345.6 449.3 H354.3 M349.9 623 V632.6 M345.6 632.6 H354.3" stroke="#2a2a2a" stroke-width="0.95" fill="none"/>
<rect x="341.2" y="550.3" width="17.5" height="72.7" fill="#6db464" stroke="#333" stroke-width="0.6"/>
<line x1="341.2" x2="358.7" y1="604" y2="604" stroke="#1c1c1c" stroke-width="1.25"/>
<path d="M371.1 565.4 V476.1 M366.8 476.1 H375.5 M371.1 625.4 V630.5 M366.8 630.5 H375.5" stroke="#2a2a2a" stroke-width="0.95" fill="none"/>
<rect x="362.4" y="565.4" width="17.4" height="60.0" fill="#f4b25c" stroke="#333" stroke-width="0.6"/>
<line x1="362.4" x2="379.8" y1="608.8" y2="608.8" stroke="#1c1c1c" stroke-width="1.25"/>
<path d="M392.2 617.2 V594.3 M387.9 594.3 H396.6 M392.2 632.6 V632.6 M387.9 632.6 H396.6" stroke="#2a2a2a" stroke-width="0.95" fill="none"/>
<rect x="383.5" y="617.2" width="17.5" height="15.4" fill="#bf8eb3" stroke="#333" stroke-width="0.6"/>
<line x1="383.5" x2="401" y1="623.2" y2="623.2" stroke="#1c1c1c" stroke-width="1.25"/>
<circle cx="392.2" cy="534" r="1.3" fill="#111"/>
<circle cx="392.2" cy="560" r="1.3" fill="#111"/>
<path d="M423.9 586.2 V559.6 M419.5 559.6 H428.2 M423.9 631.4 V632.6 M419.5 632.6 H428.2" stroke="#2a2a2a" stroke-width="0.95" fill="none"/>
<rect x="415.1" y="586.2" width="17.5" height="45.2" fill="#6a8fbd" stroke="#333" stroke-width="0.6"/>
<line x1="415.1" x2="432.6" y1="620.5" y2="620.5" stroke="#1c1c1c" stroke-width="1.25"/>
<circle cx="423.9" cy="447.2" r="1.3" fill="#111"/>
<circle cx="423.9" cy="452.6" r="1.3" fill="#111"/>
<circle cx="423.9" cy="499.6" r="1.3" fill="#111"/>
<circle cx="423.9" cy="506" r="1.3" fill="#111"/>
<path d="M444.9 578.9 V525 M440.6 525 H449.3 M444.9 630.2 V632.6 M440.6 632.6 H449.3" stroke="#2a2a2a" stroke-width="0.95" fill="none"/>
<rect x="436.2" y="578.9" width="17.5" height="51.3" fill="#6db464" stroke="#333" stroke-width="0.6"/>
<line x1="436.2" x2="453.7" y1="598.2" y2="598.2" stroke="#1c1c1c" stroke-width="1.25"/>
<circle cx="444.9" cy="485.2" r="1.3" fill="#111"/>
<path d="M465.9 605.8 V584.4 M461.6 584.4 H470.3 M465.9 623.2 V632.6 M461.6 632.6 H470.3" stroke="#2a2a2a" stroke-width="0.95" fill="none"/>
<rect x="457.2" y="605.8" width="17.5" height="17.4" fill="#f4b25c" stroke="#333" stroke-width="0.6"/>
<line x1="457.2" x2="474.7" y1="614.3" y2="614.3" stroke="#1c1c1c" stroke-width="1.25"/>
<circle cx="465.9" cy="491.2" r="1.3" fill="#111"/>
<circle cx="465.9" cy="559.6" r="1.3" fill="#111"/>
<circle cx="465.9" cy="575.9" r="1.3" fill="#111"/>
<path d="M487.1 595.5 V573.5 M482.7 573.5 H491.4 M487.1 632.6 V632.6 M482.7 632.6 H491.4" stroke="#2a2a2a" stroke-width="0.95" fill="none"/>
<rect x="478.3" y="595.5" width="17.5" height="37.1" fill="#bf8eb3" stroke="#333" stroke-width="0.6"/>
<line x1="478.3" x2="495.8" y1="632.6" y2="632.6" stroke="#1c1c1c" stroke-width="1.25"/>
<circle cx="487.1" cy="468.9" r="1.3" fill="#111"/>
<circle cx="487.1" cy="475.8" r="1.3" fill="#111"/>
<circle cx="487.1" cy="477.3" r="1.3" fill="#111"/>
<circle cx="487.1" cy="500" r="1.3" fill="#111"/>
<circle cx="487.1" cy="526.5" r="1.3" fill="#111"/>
<line x1="510" x2="527.4" y1="632.4" y2="632.4" stroke="#1c1c1c" stroke-width="1.25"/>
<circle cx="518.7" cy="556.9" r="1.3" fill="#111"/>
<circle cx="518.7" cy="582" r="1.3" fill="#111"/>
<circle cx="518.7" cy="605.5" r="1.3" fill="#111"/>
<line x1="531" x2="548.5" y1="632.4" y2="632.4" stroke="#1c1c1c" stroke-width="1.25"/>
<circle cx="539.8" cy="577.4" r="1.3" fill="#111"/>
<circle cx="539.8" cy="589.8" r="1.3" fill="#111"/>
<circle cx="539.8" cy="590.8" r="1.3" fill="#111"/>
<circle cx="539.8" cy="607.9" r="1.3" fill="#111"/>
<circle cx="539.8" cy="617.5" r="1.3" fill="#111"/>
<circle cx="539.8" cy="620.5" r="1.3" fill="#111"/>
<circle cx="539.8" cy="629.6" r="1.3" fill="#111"/>
<path d="M560.9 626.6 V622.3 M556.5 622.3 H565.2 M560.9 632.6 V632.6 M556.5 632.6 H565.2" stroke="#2a2a2a" stroke-width="0.95" fill="none"/>
<rect x="552.1" y="626.6" width="17.5" height="6.0" fill="#f4b25c" stroke="#333" stroke-width="0.6"/>
<line x1="552.1" x2="569.6" y1="632.6" y2="632.6" stroke="#1c1c1c" stroke-width="1.25"/>
<circle cx="560.9" cy="578.6" r="1.3" fill="#111"/>
<circle cx="560.9" cy="589.2" r="1.3" fill="#111"/>
<circle cx="560.9" cy="595.8" r="1.3" fill="#111"/>
<circle cx="560.9" cy="600.3" r="1.3" fill="#111"/>
<circle cx="560.9" cy="603" r="1.3" fill="#111"/>
<circle cx="560.9" cy="610" r="1.3" fill="#111"/>
<circle cx="560.9" cy="613.9" r="1.3" fill="#111"/>
<line x1="573.3" x2="590.7" y1="632.4" y2="632.4" stroke="#1c1c1c" stroke-width="1.25"/>
<circle cx="582.0" cy="520.1" r="1.3" fill="#111"/>
<circle cx="582.0" cy="576.2" r="1.3" fill="#111"/>
<circle cx="582.0" cy="592.8" r="1.3" fill="#111"/>
<circle cx="582.0" cy="604.9" r="1.3" fill="#111"/>
<circle cx="582.0" cy="607" r="1.3" fill="#111"/>
<circle cx="582.0" cy="608.5" r="1.3" fill="#111"/>
<circle cx="582.0" cy="625.4" r="1.3" fill="#111"/>
<circle cx="582.0" cy="630.2" r="1.3" fill="#111"/>
<text transform="translate(327.2 638.4) rotate(-45)" text-anchor="end" font-family="DejaVu Sans, Liberation Sans, sans-serif" font-size="5.7" fill="#333">urine<tspan font-size="3.4" dy="-1.8">a</tspan></text>
<line x1="328.5" x2="328.5" y1="631.2" y2="632.4" stroke="#333" stroke-width="0.5"/>
<text transform="translate(348.8 638.4) rotate(-45)" text-anchor="end" font-family="DejaVu Sans, Liberation Sans, sans-serif" font-size="5.7" fill="#333">whole blood<tspan font-size="3.4" dy="-1.8">a</tspan></text>
<line x1="350.1" x2="350.1" y1="631.2" y2="632.4" stroke="#333" stroke-width="0.5"/>
<text transform="translate(370.4 638.4) rotate(-45)" text-anchor="end" font-family="DejaVu Sans, Liberation Sans, sans-serif" font-size="5.7" fill="#333">serum<tspan font-size="3.4" dy="-1.8">a</tspan></text>
<line x1="371.7" x2="371.7" y1="631.2" y2="632.4" stroke="#333" stroke-width="0.5"/>
<text transform="translate(392.0 638.4) rotate(-45)" text-anchor="end" font-family="DejaVu Sans, Liberation Sans, sans-serif" font-size="5.7" fill="#333">plasma<tspan font-size="3.4" dy="-1.8">a</tspan></text>
<line x1="393.3" x2="393.3" y1="631.2" y2="632.4" stroke="#333" stroke-width="0.5"/>
<text transform="translate(422.7 638.4) rotate(-45)" text-anchor="end" font-family="DejaVu Sans, Liberation Sans, sans-serif" font-size="5.7" fill="#333">urine<tspan font-size="3.4" dy="-1.8">a</tspan></text>
<line x1="424.0" x2="424.0" y1="631.2" y2="632.4" stroke="#333" stroke-width="0.5"/>
<text transform="translate(444.3 638.4) rotate(-45)" text-anchor="end" font-family="DejaVu Sans, Liberation Sans, sans-serif" font-size="5.7" fill="#333">whole blood<tspan font-size="3.4" dy="-1.8">a</tspan></text>
<line x1="445.6" x2="445.6" y1="631.2" y2="632.4" stroke="#333" stroke-width="0.5"/>
<text transform="translate(465.9 638.4) rotate(-45)" text-anchor="end" font-family="DejaVu Sans, Liberation Sans, sans-serif" font-size="5.7" fill="#333">serum<tspan font-size="3.4" dy="-1.8">a</tspan></text>
<line x1="467.2" x2="467.2" y1="631.2" y2="632.4" stroke="#333" stroke-width="0.5"/>
<text transform="translate(487.5 638.4) rotate(-45)" text-anchor="end" font-family="DejaVu Sans, Liberation Sans, sans-serif" font-size="5.7" fill="#333">plasma<tspan font-size="3.4" dy="-1.8">a</tspan></text>
<line x1="488.8" x2="488.8" y1="631.2" y2="632.4" stroke="#333" stroke-width="0.5"/>
<text transform="translate(517.4 638.4) rotate(-45)" text-anchor="end" font-family="DejaVu Sans, Liberation Sans, sans-serif" font-size="5.7" fill="#333">urine<tspan font-size="3.4" dy="-1.8">a</tspan></text>
<line x1="518.7" x2="518.7" y1="631.2" y2="632.4" stroke="#333" stroke-width="0.5"/>
<text transform="translate(539.0 638.4) rotate(-45)" text-anchor="end" font-family="DejaVu Sans, Liberation Sans, sans-serif" font-size="5.7" fill="#333">whole blood<tspan font-size="3.4" dy="-1.8">a</tspan></text>
<line x1="540.3" x2="540.3" y1="631.2" y2="632.4" stroke="#333" stroke-width="0.5"/>
<text transform="translate(560.6 638.4) rotate(-45)" text-anchor="end" font-family="DejaVu Sans, Liberation Sans, sans-serif" font-size="5.7" fill="#333">serum<tspan font-size="3.4" dy="-1.8">a</tspan></text>
<line x1="561.9" x2="561.9" y1="631.2" y2="632.4" stroke="#333" stroke-width="0.5"/>
<text transform="translate(582.2 638.4) rotate(-45)" text-anchor="end" font-family="DejaVu Sans, Liberation Sans, sans-serif" font-size="5.7" fill="#333">plasma<tspan font-size="3.4" dy="-1.8">a</tspan></text>
<line x1="583.5" x2="583.5" y1="631.2" y2="632.4" stroke="#333" stroke-width="0.5"/>
<text x="360.2" y="668.6" text-anchor="middle" font-family="DejaVu Sans, Liberation Sans, sans-serif" font-weight="bold" font-size="6.3" fill="#222">BPA</text>
<text x="455.2" y="668.6" text-anchor="middle" font-family="DejaVu Sans, Liberation Sans, sans-serif" font-weight="bold" font-size="6.3" fill="#222">BPS</text>
<text x="550.3" y="668.6" text-anchor="middle" font-family="DejaVu Sans, Liberation Sans, sans-serif" font-weight="bold" font-size="6.3" fill="#222">BPF</text>
<defs><clipPath id="pc"><rect x="141.4" y="329" width="162.7" height="107.6"/></clipPath><linearGradient id="pbg" x1="0" x2="1" y1="0" y2="0"><stop offset="0" stop-color="#efeee9"/><stop offset="0.6" stop-color="#f2f0e8"/><stop offset="1" stop-color="#fbfbf9"/></linearGradient><linearGradient id="pwin" x1="0" x2="1" y1="1" y2="0"><stop offset="0" stop-color="#4a4a4c"/><stop offset="1" stop-color="#2b2b2d"/></linearGradient><filter id="pb" x="-5%" y="-5%" width="110%" height="110%"><feGaussianBlur stdDeviation="0.55"/></filter><filter id="pb2" x="-15%" y="-15%" width="130%" height="130%"><feGaussianBlur stdDeviation="2.2"/></filter><pattern id="vials" width="3.9" height="3.5" patternUnits="userSpaceOnUse" patternTransform="translate(186 366) rotate(28) skewX(-20)"><rect width="3.9" height="3.5" fill="#1f2d7d"/><circle cx="1.95" cy="1.75" r="1.15" fill="#bfcdf5"/></pattern></defs>
<g clip-path="url(#pc)"><rect x="141.4" y="329" width="162.7" height="107.6" fill="url(#pbg)"/><g filter="url(#pb)">
<polygon points="141.4,395.0 170.0,395.0 195.0,436.6 141.4,436.6" fill="#ecebe0" />
<polygon points="233.0,392.0 252.0,388.0 271.0,390.0 268.0,420.0 259.0,431.0 246.0,418.0 232.0,405.0 227.0,397.0" fill="#efebde" />
<polygon points="141.4,329.0 250.0,329.0 228.0,345.0 180.0,372.0 172.0,366.0 144.0,341.0" fill="#f1f1f0" />
<polygon points="141.4,341.0 147.0,361.0 166.0,386.0 172.0,400.0 180.0,425.0 141.4,400.0" fill="#f3f3f2" />
<polygon points="187.1,396.4 205.1,405.8 209.4,421.3 193.9,431.6 189.6,423.0" fill="#e6e6e4" />
<polygon points="166.0,386.0 179.0,386.0 186.0,406.0 190.0,430.0 180.0,425.0 172.0,400.0" fill="#efefee" />
<polygon points="176.0,352.0 206.0,336.0 208.0,340.0 178.0,358.0" fill="#dededc" />
<polygon points="144.0,340.6 171.6,364.7 179.3,386.0 183.0,398.0 166.4,386.0 146.6,360.4" fill="#5f6264" />
<polygon points="146.5,345.0 169.5,365.5 176.0,385.0 166.4,383.0 148.5,359.5" fill="#a9aba8" />
<polygon points="150.0,350.0 160.0,360.0 158.0,372.0 151.0,362.0" fill="#c4c6c3" />
<polygon points="170.7,372.0 179.3,376.0 186.2,405.8 193.1,428.2 190.5,431.6 184.5,421.3 179.3,401.5" fill="#3c3f45" />
<polygon points="176.0,366.0 186.0,364.0 183.0,386.0 180.0,386.0" fill="#2a2d35" />
<polygon points="165.5,329.0 193.9,329.0 175.9,340.2 170.7,339.8" fill="#1c2230" />
<polygon points="215.5,329.0 227.5,329.0 227.5,330.3 208.6,340.6 206.8,338.9" fill="#17191d" />
<polygon points="176.7,360.4 229.2,331.0 248.1,329.0 250.0,331.0 180.2,368.2" fill="#f7f7f6" />
<polygon points="248.1,329.0 264.9,329.0 264.9,342.4 230.9,366.4 225.7,363.9 224.9,345.8" fill="url(#pwin)" />
<polygon points="218.9,345.5 224.9,342.5 225.7,363.9 221.4,358.7" fill="#15171b" />
<polygon points="230.9,366.4 264.9,342.4 267.9,345.8 266.2,357.0 235.2,369.5" fill="#e9e7e1" />
<polygon points="186.2,366.4 206.8,353.5 221.0,358.5 240.0,372.0 224.0,380.0 213.7,390.3 206.8,397.2 186.2,385.2 181.0,378.0" fill="url(#vials)" />
<polygon points="206.0,353.5 219.0,347.0 221.0,358.5" fill="#8d8fa6" />
<polygon points="183.0,383.0 186.2,385.2 206.8,397.2 211.1,411.0 208.6,411.8 205.1,405.0 189.6,396.4 185.0,391.2" fill="#25272c" />
<polygon points="213.7,390.3 224.0,380.0 240.0,372.0 248.1,380.0 246.4,385.2 238.7,388.6 235.2,392.9 222.3,402.4 218.0,399.8" fill="#3d4046" />
<polygon points="224.0,383.0 240.0,375.0 243.0,379.0 227.0,388.0" fill="#55585f" />
<polygon points="234.4,369.0 255.9,359.6 266.2,357.8 273.1,377.6 270.0,383.0 266.2,387.7 250.7,389.5 243.0,388.6 240.4,385.2 247.3,380.6 247.3,377.6 239.5,374.2" fill="#a8cbec" />
<polygon points="207.7,390.3 212.9,388.6 218.0,401.5 226.6,397.2 232.6,405.8 243.8,417.0 230.9,421.3 223.2,428.2 221.5,429.9 209.4,421.3 202.5,405.8 209.4,411.8 211.1,410.1" fill="#9fc5ea" />
</g>
<g filter="url(#pb2)">
<polygon points="270.5,357.0 310.0,335.0 310.0,440.0 262.8,440.0 246.0,421.0 274.0,392.0 275.5,377.6" fill="#fbfbfa" />
<polygon points="223.2,428.2 230.9,421.3 243.8,417.9 262.8,440.0 221.4,440.0" fill="#f8f8f7" />
</g>
<g filter="url(#pb)"><polygon points="258.4,426.5 267.1,420.4 269.6,424.8 262.8,431.6" fill="#4a2e28" /><polygon points="259.5,425.7 267.1,420.4 268.0,422.0 260.5,427.5" fill="#7a5a50" /></g>
<g filter="url(#pb)"><path d="M142 400 L147 406 L156 407 L158 411 L151 413 L146 411 L142 405 Z" fill="#a2a4a2"/><path d="M146 392 L163 402" stroke="#d2d2cf" stroke-width="0.8"/></g>
</g>
<line x1="141.4" x2="304.1" y1="436.9" y2="436.9" stroke="#eab3b3" stroke-width="0.9"/>
<text x="151.5" y="475.6" font-family="Liberation Serif, serif" font-size="21.3" fill="#111">HPLC-MS/MS</text>
</svg>
</body></html>
